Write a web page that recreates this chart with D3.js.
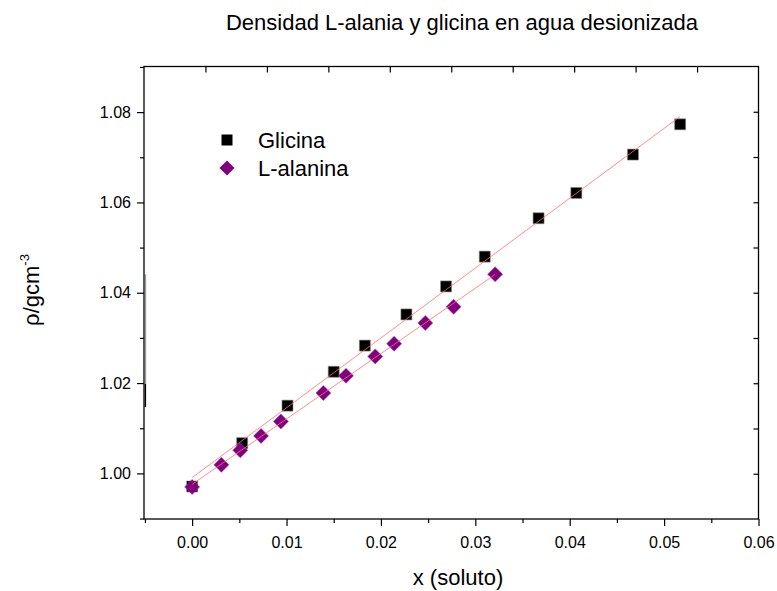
<!DOCTYPE html>
<html>
<head>
<meta charset="utf-8">
<script src="https://cdn.jsdelivr.net/npm/d3@7"></script>
<style>
  html, body { margin: 0; padding: 0; background: #fff; }
  svg { display: block; font-family: "Liberation Sans", Arial, sans-serif; }
</style>
</head>
<body>
<svg id="chart" width="777" height="591"></svg>
<script>
// Mole fraction of solute (x) and measured density (g/cm^3)
const glicinaX = [0.0000, 0.0053, 0.0101, 0.0150, 0.0183, 0.0227, 0.0269, 0.0310, 0.0367, 0.0407, 0.0467, 0.0517];
const glicinaY = [0.9971, 1.0067, 1.0150, 1.0225, 1.0283, 1.0352, 1.0414, 1.0480, 1.0565, 1.0621, 1.0706, 1.0773];
const alaninaX = [0.0000, 0.0031, 0.0051, 0.0073, 0.0094, 0.0139, 0.0163, 0.0194, 0.0214, 0.0247, 0.0277, 0.0321];
const alaninaY = [0.9970, 1.0019, 1.0051, 1.0083, 1.0115, 1.0178, 1.0216, 1.0259, 1.0287, 1.0333, 1.0369, 1.0441];

const seriesNames = ["Glicina", "L-alanina"];
const xTickValues = [0.00, 0.01, 0.02, 0.03, 0.04, 0.05, 0.06];
const xMinorValues = [-0.005, 0.005, 0.015, 0.025, 0.035, 0.045, 0.055];
const yTickValues = [1.00, 1.02, 1.04, 1.06, 1.08];
const yMinorValues = [0.99, 1.01, 1.03, 1.05, 1.07, 1.09];

const svg = d3.select("#chart");
const plotLeft = 144, plotRight = 758.5, plotTop = 66.5, plotBottom = 519;

const x = d3.scaleLinear().domain([-0.0051, 0.06]).range([plotLeft, plotRight]);
const y = d3.scaleLinear().domain([0.9899, 1.0901]).range([plotBottom, plotTop]);
// Secondary axes on top/right split the frame into ten equal parts
const xTop = d3.scaleLinear().domain([0, 10]).range([plotLeft, plotRight]);
const yRight = d3.scaleLinear().domain([0, 10]).range([plotBottom, plotTop]);

const fontSize = 16;

// Title
svg.append("text")
  .attr("x", 462).attr("y", 30)
  .attr("text-anchor", "middle")
  .attr("font-size", 22)
  .text("Densidad L-alania y glicina en agua desionizada");

function styleAxis(g) {
  g.select(".domain").remove();
  g.selectAll(".tick line").attr("stroke", "#000").attr("stroke-width", 1.2);
  g.selectAll(".tick text").attr("font-size", fontSize).attr("fill", "#000")
    .attr("font-family", "Liberation Sans, Arial, sans-serif");
}

// Bottom axis (major + minor)
svg.append("g").attr("transform", `translate(0,${plotBottom})`)
  .call(d3.axisBottom(x).tickValues(xTickValues).tickFormat(d3.format(".2f")).tickSize(7).tickPadding(11))
  .call(styleAxis);
svg.append("g").attr("transform", `translate(0,${plotBottom})`)
  .call(d3.axisBottom(x).tickValues(xMinorValues).tickFormat("").tickSize(4))
  .call(styleAxis);

// Left axis (major + minor)
svg.append("g").attr("transform", `translate(${plotLeft},0)`)
  .call(d3.axisLeft(y).tickValues(yTickValues).tickFormat(d3.format(".2f")).tickSize(7).tickPadding(6))
  .call(styleAxis);
svg.append("g").attr("transform", `translate(${plotLeft},0)`)
  .call(d3.axisLeft(y).tickValues(yMinorValues).tickFormat("").tickSize(4))
  .call(styleAxis);

// Top and right axes, ticks pointing inward
svg.append("g").attr("transform", `translate(0,${plotTop})`)
  .call(d3.axisBottom(xTop).tickValues(d3.range(1, 10)).tickFormat("").tickSize(6))
  .call(styleAxis);
svg.append("g").attr("transform", `translate(${plotRight},0)`)
  .call(d3.axisLeft(yRight).tickValues(d3.range(1, 10)).tickFormat("").tickSize(5))
  .call(styleAxis);

// Frame
svg.append("rect")
  .attr("x", plotLeft).attr("y", plotTop)
  .attr("width", plotRight - plotLeft).attr("height", plotBottom - plotTop)
  .attr("fill", "none").attr("stroke", "#000").attr("stroke-width", 1.3);

// Stray stroke along the left frame
svg.append("line")
  .attr("x1", plotLeft + 1.6).attr("x2", plotLeft + 1.6)
  .attr("y1", y(1.0441)).attr("y2", y(1.0198))
  .attr("stroke", "#9a9a9a").attr("stroke-width", 1.2);
svg.append("line")
  .attr("x1", plotLeft + 1.4).attr("x2", plotLeft + 1.4)
  .attr("y1", y(1.0198)).attr("y2", y(1.0147))
  .attr("stroke", "#000").attr("stroke-width", 1.4);

const square = d3.symbol().type(d3.symbolSquare).size(121);
const diamond = d3.symbol().type(d3.symbolSquare).size(112);

const gly = glicinaX.map((v, i) => [v, glicinaY[i]]);
const ala = alaninaX.map((v, i) => [v, alaninaY[i]]);

svg.append("g").selectAll("path").data(gly).join("path")
  .attr("d", square)
  .attr("transform", d => `translate(${x(d[0])},${y(d[1])})`)
  .attr("fill", "#000").attr("stroke", "#888").attr("stroke-width", 0.6);

svg.append("g").selectAll("path").data(ala).join("path")
  .attr("d", diamond)
  .attr("transform", d => `translate(${x(d[0])},${y(d[1])}) rotate(45)`)
  .attr("fill", "#800080").attr("stroke", "#9a3a9a").attr("stroke-width", 0.5);

// Least-squares linear fit drawn across each series' range
function fit(pts) {
  const mx = d3.mean(pts, d => d[0]), my = d3.mean(pts, d => d[1]);
  const sxy = d3.sum(pts, d => (d[0] - mx) * (d[1] - my));
  const sxx = d3.sum(pts, d => (d[0] - mx) ** 2);
  const b = sxy / sxx, a = my - b * mx;
  const [x0, x1] = d3.extent(pts, d => d[0]);
  return [[x0, a + b * x0], [x1, a + b * x1]];
}
const line = d3.line().x(d => x(d[0])).y(d => y(d[1]));
[gly, ala].forEach(pts => {
  svg.append("path").attr("d", line(fit(pts)))
    .attr("fill", "none").attr("stroke", "#ff6e6e").attr("stroke-width", 0.8);
});

// Legend
const legend = svg.append("g");
const legendItems = [
  { name: seriesNames[0], sym: square, fill: "#000", rot: 0, y: 140 },
  { name: seriesNames[1], sym: diamond, fill: "#800080", rot: 45, y: 168 }
];
legendItems.forEach(it => {
  legend.append("path").attr("d", it.sym)
    .attr("transform", `translate(227,${it.y}) rotate(${it.rot})`)
    .attr("fill", it.fill);
  legend.append("text").attr("x", 258).attr("y", it.y + 8)
    .attr("font-size", 22).text(it.name);
});

// Axis titles
svg.append("text")
  .attr("x", 458).attr("y", 585)
  .attr("text-anchor", "middle").attr("font-size", 22)
  .text("x (soluto)");

const yTitle = svg.append("text")
  .attr("transform", "translate(39,290) rotate(-90)")
  .attr("text-anchor", "middle").attr("font-size", 22);
yTitle.append("tspan").text("ρ/gcm");
yTitle.append("tspan").attr("dy", -10).attr("font-size", 13).text("-3");
</script>
</body>
</html>
